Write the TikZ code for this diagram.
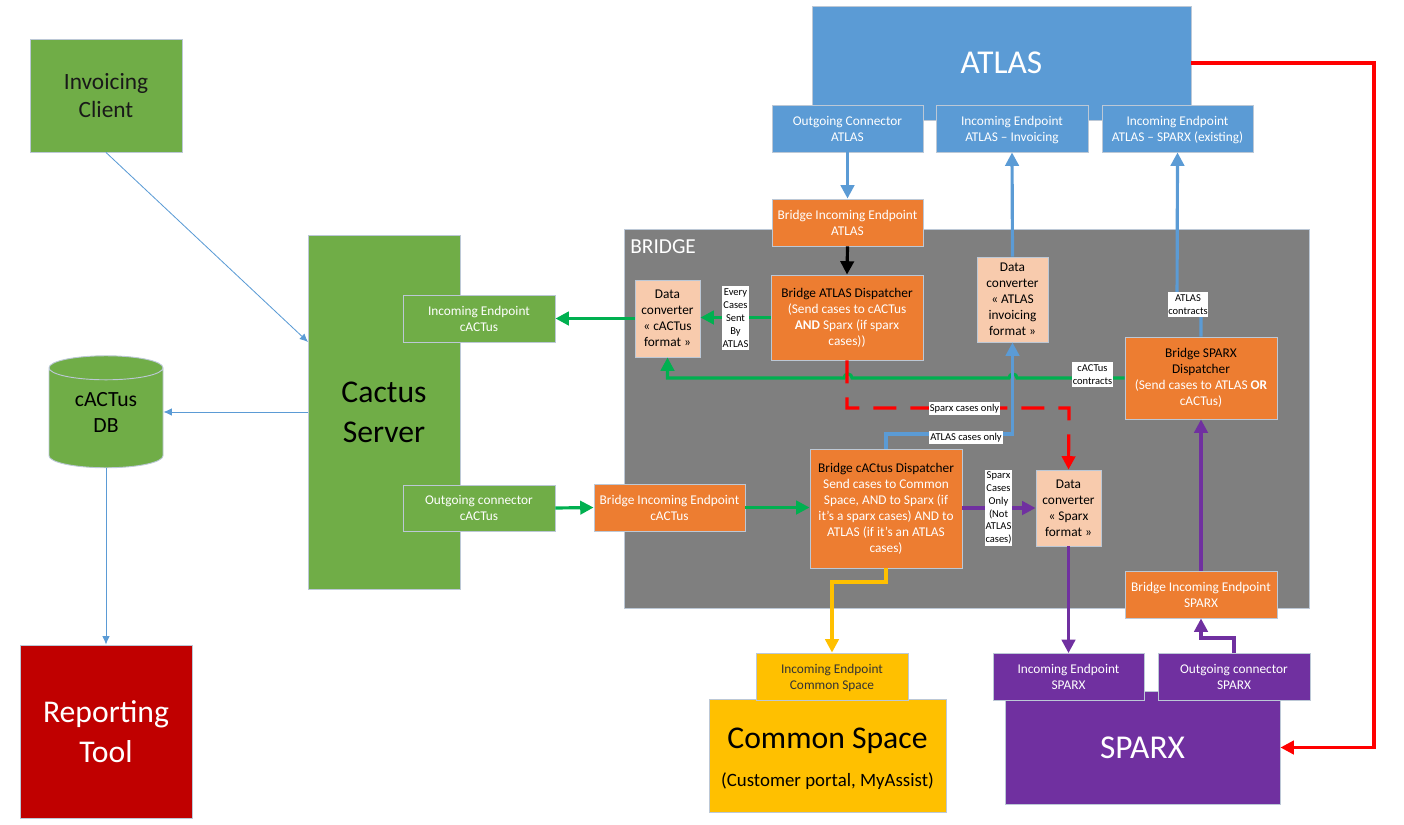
\documentclass[tikz,border=0pt]{standalone}
\usepackage{fontspec}
\setmainfont{Carlito}
\usepackage{tikz}
\usetikzlibrary{arrows.meta,shapes.geometric}
\definecolor{cblue}{HTML}{5B9BD5}
\definecolor{corange}{HTML}{ED7D31}
\definecolor{cgreen}{HTML}{70AD47}
\definecolor{cgold}{HTML}{FFC000}
\definecolor{cpurple}{HTML}{7030A0}
\definecolor{cdarkred}{HTML}{C00000}
\definecolor{cpeach}{HTML}{F8CBAD}
\definecolor{cgrey}{HTML}{7F7F7F}
\definecolor{cedge}{HTML}{BCC8D6}
\definecolor{lgreen}{HTML}{00B050}
\definecolor{lred}{HTML}{FF0000}
\newcommand{\pxl}{0.6pt}
\newcommand{\nodepth}[1]{\raisebox{0pt}[\height][0pt]{#1}}

\begin{document}
\begin{tikzpicture}[x=0.6pt,y=-0.6pt,
      wh/.style 2 args={minimum width=#1*\pxl,minimum height=#2*\pxl},
      box/.style={draw=cedge,line width=0.55pt,inner sep=0pt,align=center,text=white,
        font=\fontsize{8}{9.6}\selectfont},
      bigbox/.style={box,font=\fontsize{19}{24}\selectfont},
      convbox/.style={box,fill=cpeach,text=black},
      tag/.style={fill=white,inner sep=0.4pt,align=center,text=black,
        font=\fontsize{6.3}{7.7}\selectfont},
      thin link/.style={-{Latex[length=5pt,width=4.5pt]},cblue,line width=0.5pt},
      link/.style={-{Triangle[length=8pt,width=8pt]},line width=1.9pt}]
    \useasboundingbox (0,0) rectangle (1404,824);

    % left hand side
    \node[bigbox,fill=cgreen,wh={152}{113},text=black!90,font=\fontsize{14}{17}\selectfont] (client) at (106,95.5) {Invoicing\\Client};
    \node[bigbox,fill=cgreen,wh={152}{354},text=black] (cactus) at (384,412) {Cactus\\Server};
    \node[cylinder,shape border rotate=90,aspect=0.386,draw=cedge,line width=0.55pt,fill=cgreen,wh={114}{112},
      inner sep=0pt,align=center,text=black,font=\fontsize{13}{15.6}\selectfont] (db) at (106,418) {cACTus\\DB\rule[-7.2pt]{0pt}{0pt}};
    \node[bigbox,fill=cdarkred,wh={172}{173}] (report) at (106,731.5) {Reporting\\Tool};
    \node[box,fill=cgreen,wh={152}{47}] (cin) at (479,318.5) {Incoming Endpoint\\cACTus};
    \node[box,fill=cgreen,wh={152}{46}] (cout) at (479,508) {Outgoing connector\\cACTus};
    \coordinate (cactusin) at (308,342);

    % bridge
    \node[fill=cgrey,draw=cedge,line width=0.55pt,wh={685}{379}] (bridge) at (966.5,418.5) {};
    \node[anchor=west,inner sep=0pt,text=white,font=\fontsize{12.8}{15}\selectfont] (bridgename) at (630,247) {BRIDGE};

    % atlas
    \node[bigbox,fill=cblue,wh={379}{114},font=\fontsize{20}{24}\selectfont] (atlas) at (1001.5,63) {ATLAS};
    \node[box,fill=cblue,wh={151}{47}] (aout) at (847.5,128.5) {Outgoing Connector\\ATLAS};
    \node[box,fill=cblue,wh={152}{47}] (ainv) at (1012,128.5) {Incoming Endpoint\\\nodepth{ATLAS -- Invoicing}};
    \node[box,fill=cblue,wh={151}{47}] (aspx) at (1177.5,128.5) {Incoming Endpoint\\\nodepth{ATLAS -- SPARX (existing)}};

    % bridge boxes
    \node[box,fill=corange,wh={151}{47}] (bain) at (847.5,222.5) {Bridge Incoming Endpoint\\ATLAS};
    \node[box,fill=corange,wh={152}{85}] (badisp) at (847,317.5) {\textcolor{black}{Bridge ATLAS Dispatcher}\\(Send cases to cACTus\\\textbf{AND} Sparx (if sparx\\cases))};
    \node[convbox,wh={65}{77}] (conv c) at (667.5,318.5) {Data\\converter\\« cACTus\\format »};
    \node[convbox,wh={71}{85}] (conv a) at (1012.5,299.5) {Data\\converter\\« ATLAS\\invoicing\\format »};
    \node[box,fill=corange,wh={152}{82}] (sdisp) at (1201,378) {\textcolor{black}{Bridge SPARX}\\\textcolor{black}{Dispatcher}\\(Send cases to ATLAS \textbf{OR}\\cACTus)};
    \node[box,fill=corange,wh={152}{119}] (cdisp) at (886,508.5) {\textcolor{black}{Bridge cACtus Dispatcher}\\Send cases to Common\\Space, AND to Sparx (if\\it’s a sparx cases) AND to\\ATLAS (if it’s an ATLAS\\cases)};
    \node[convbox,wh={65}{76}] (conv s) at (1068.5,508) {Data\\converter\\« Sparx\\format »};
    \node[box,fill=corange,wh={151}{47}] (bcin) at (669.5,507.5) {Bridge Incoming Endpoint\\cACTus};
    \node[box,fill=corange,wh={152}{47}] (bsin) at (1201,594.5) {Bridge Incoming Endpoint\\SPARX};

    % sparx and common space
    \node[bigbox,fill=cpurple,wh={275}{113},font=\fontsize{20}{24}\selectfont] (sparx) at (1142.5,747.5) {SPARX};
    \node[box,fill=cpurple,wh={151}{47}] (sin) at (1068.5,677) {Incoming Endpoint\\SPARX};
    \node[box,fill=cpurple,wh={152}{47}] (sout) at (1234,677) {Outgoing connector\\SPARX};
    \node[bigbox,fill=cgold,wh={237}{113},text=black,font=\fontsize{19}{24}\selectfont] (common) at (827.5,755.5) {\rule{0pt}{16pt}Common Space\\[-1pt]{\fontsize{11.3}{13}\selectfont (Customer portal, MyAssist)}};
    \node[box,fill=cgold,wh={152}{47},text=black!80] (cspace) at (832,676.5) {Incoming Endpoint\\\nodepth{Common Space}};

    % thin arrows
    \draw[thin link] (client.south) -- (cactusin);
    \draw[thin link] (cactus.west) -- (db.east |- cactus.west);
    \draw[thin link] (db.south) -- (report.north);

    % green
    \draw[link,lgreen] (conv c.west) -- (cin.east);
    \draw[link,lgreen] (badisp.west) -- (badisp.west -| conv c.east);
    \draw[link,lgreen] (cout.east) -- (bcin.west);
    \draw[link,lgreen] (bcin.east) -- (cdisp.west |- bcin.east);
    \draw[link,lgreen] (sdisp.west) -- (1017,378) arc[start angle=0,end angle=180,radius=2.4pt]
      -- (852,378) arc[start angle=0,end angle=180,radius=2.4pt] -- (conv c.south |- sdisp.west) -- (conv c.south);

    % red
    \draw[link,lred,dash pattern=on 13.8pt off 8.4pt] (badisp.south) |- (1069,408) -- (conv s.north);
    \draw[link,lred] (atlas.east) -- (1374,63) -- (1374,747.5) -- (sparx.east);

    % blue
    \draw[link,black] (bain.south) -- (badisp.north);
    \draw[link,cblue] (aout.south) -- (bain.north);
    \draw[link,cblue] (conv a.north) -- (ainv.south);
    \draw[link,cblue] (sdisp.north) |- (1177,305) -- (aspx.south);
    \draw[link,cblue] (cdisp.north) |- (1012.5,434) -- (conv a.south);

    % purple
    \draw[link,cpurple] (cdisp.east |- conv s.west) -- (conv s.west);
    \draw[link,cpurple] (conv s.south) -- (sin.north);
    \draw[link,cpurple] (bsin.north) -- (sdisp.south);
    \draw[link,cpurple] (sout.north) |- (1201,638) -- (bsin.south);

    % gold
    \draw[link,cgold] (cdisp.south) |- (832,582) -- (cspace.north);

    % tags on the links
    \node[tag,wh={27}{64}] (tag every) at (735.5,318) {Every\\Cases\\Sent\\By\\ATLAS};
    \node[tag,wh={40}{25}] (tag acon) at (1188,304.5) {ATLAS\\contracts};
    \node[tag,wh={41}{25}] (tag ccon) at (1092.5,374.5) {cACTus\\contracts};
    \node[tag,wh={71}{13}] (tag sparx) at (964.5,408.5) {Sparx cases only};
    \node[tag,wh={74}{13}] (tag atlas) at (966,437.5) {ATLAS cases only};
    \node[tag,wh={27}{76}] (tag only) at (998.5,508) {Sparx\\Cases\\Only\\(Not\\ATLAS\\cases)};
  \end{tikzpicture}
\end{document}
